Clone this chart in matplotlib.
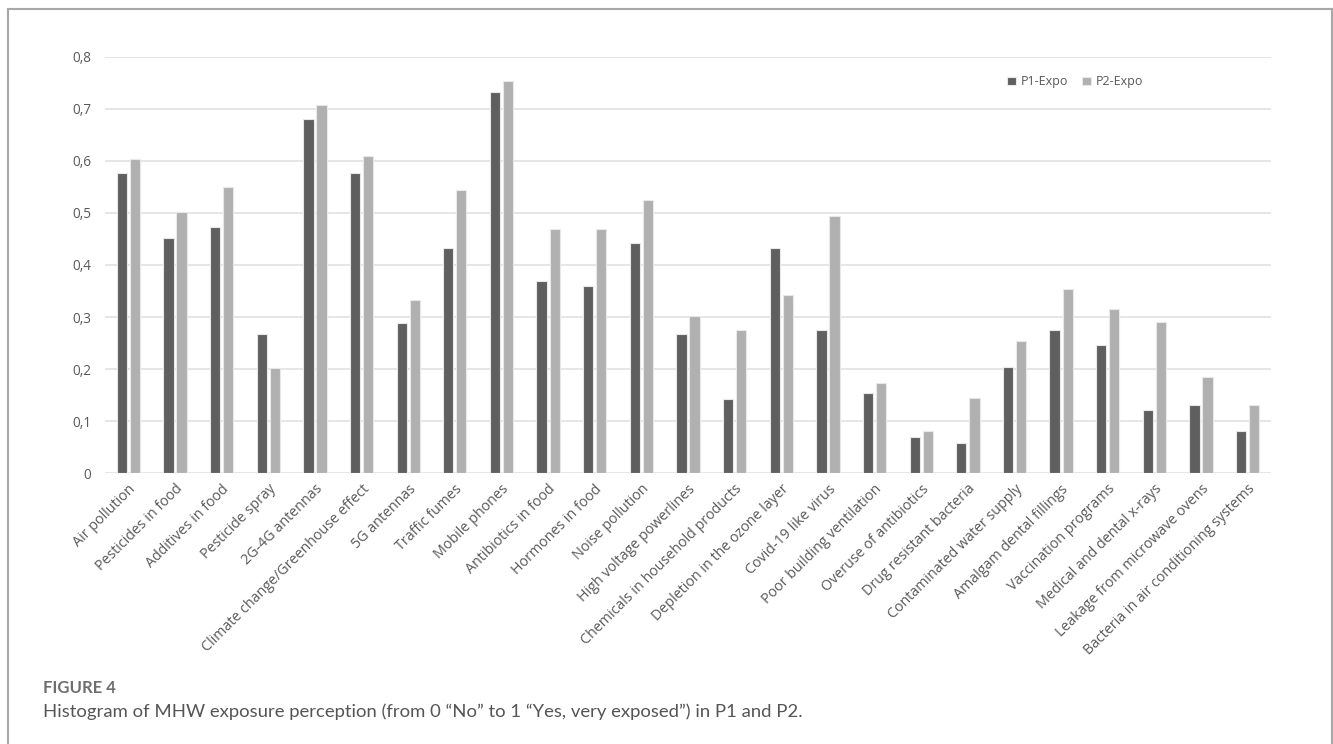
import matplotlib.pyplot as plt
import numpy as np
from matplotlib.lines import Line2D

# Perceived exposure per source, P1 vs P2
categories = [
    "Air pollution", "Pesticides in food", "Additives in food", "Pesticide spray",
    "2G-4G antennas", "Climate change/Greenhouse effect", "5G antennas",
    "Traffic fumes", "Mobile phones", "Antibiotics in food", "Hormones in food",
    "Noise pollution", "High voltage powerlines", "Chemicals in household products",
    "Depletion in the ozone layer", "Covid-19 like virus", "Poor building ventilation",
    "Overuse of antibiotics", "Drug resistant bacteria", "Contaminated water supply",
    "Amalgam dental fillings", "Vaccination programs", "Medical and dental x-rays",
    "Leakage from microwave ovens", "Bacteria in air conditioning systems",
]
p1_expo = [0.576, 0.452, 0.473, 0.267, 0.680, 0.576, 0.288, 0.432, 0.732,
           0.370, 0.360, 0.443, 0.267, 0.142, 0.432, 0.276, 0.154,
           0.070, 0.059, 0.204, 0.276, 0.246, 0.121, 0.132, 0.081]
p2_expo = [0.603, 0.501, 0.550, 0.202, 0.708, 0.610, 0.332, 0.543, 0.754,
           0.469, 0.469, 0.525, 0.303, 0.276, 0.342, 0.494, 0.174,
           0.082, 0.145, 0.254, 0.353, 0.315, 0.290, 0.184, 0.132]
yticks = [0, 0.1, 0.2, 0.3, 0.4, 0.5, 0.6, 0.7, 0.8]
ytick_labels = ["0", "0,1", "0,2", "0,3", "0,4", "0,5", "0,6", "0,7", "0,8"]

plt.rcParams['font.family'] = ['Open Sans', 'DejaVu Sans']

fig = plt.figure(figsize=(13.33, 7.44), dpi=100)
ax = fig.add_axes([0.0788, 0.3638, 0.8747, 0.5601])

x = np.arange(len(categories))
w = 0.22
ax.bar(x - 0.14, p1_expo, w, color='#5f5f5f', edgecolor='#e8e8e8',
       linewidth=0.8, label='P1-Expo', zorder=3)
ax.bar(x + 0.14, p2_expo, w, color='#b0b0b0', edgecolor='#e8e8e8',
       linewidth=0.8, label='P2-Expo', zorder=3)

ax.set_xlim(-0.5, len(categories) - 0.5)
ax.set_ylim(0, 0.8)
ax.set_yticks(yticks)
ax.set_yticklabels(ytick_labels, color='#595959', fontsize=9.8)
ax.set_xticks(x)
ax.set_xticklabels(categories, rotation=45, ha='right', rotation_mode='anchor',
                   color='#595959', fontsize=10.3)
ax.tick_params(length=0, pad=6)
ax.tick_params(axis='y', pad=10)
ax.grid(axis='y', color='#e4e4e4', linewidth=1.3, zorder=0)
for s in ax.spines.values():
    s.set_visible(False)

ax.legend(loc='upper left', bbox_to_anchor=(0.764, 0.982), ncol=2, frameon=False,
          fontsize=9, labelcolor='#595959', handlelength=0.7, handleheight=0.7,
          handletextpad=0.4, columnspacing=1.1)

# framing box around the figure panel
fx0, fx1, fy0 = 8 / 1333, 1332 / 1333, 1 - 9 / 744
for xs, ys in [([fx0, fx1], [fy0, fy0]), ([fx0, fx0], [0, fy0]), ([fx1, fx1], [0, fy0])]:
    fig.add_artist(Line2D(xs, ys, transform=fig.transFigure, color='#a8a8a8', linewidth=1.5))

fig.text(43 / 1333, 1 - 688 / 744, "FIGURE 4", color='#6e6e6e', fontsize=12,
         fontweight='bold', va='center', family=['Lato', 'DejaVu Sans'])
fig.text(43 / 1333, 1 - 712 / 744,
         "Histogram of MHW exposure perception (from 0 \u201cNo\u201d to 1 \u201cYes, very exposed\u201d) in P1 and P2.",
         color='#555555', fontsize=13.3, va='center', family=['Lato', 'DejaVu Sans'])

fig.savefig('out.png', dpi=100)
